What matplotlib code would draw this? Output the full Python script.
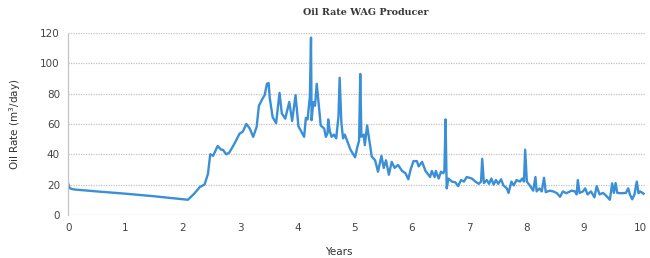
import matplotlib.pyplot as plt

# Years and oil rate (m3/day)
years = [0.00, 0.03, 0.10, 0.50, 1.00, 1.50, 1.95, 2.09, 2.20, 2.30, 2.38, 2.44,
         2.48, 2.53, 2.61, 2.67, 2.70, 2.76, 2.81, 2.88, 2.93, 2.99, 3.05, 3.11,
         3.17, 3.23, 3.29, 3.33, 3.39, 3.43, 3.47, 3.50, 3.52, 3.57, 3.63, 3.69,
         3.73, 3.79, 3.86, 3.91, 3.97, 4.02, 4.12, 4.15, 4.18, 4.22, 4.24, 4.25,
         4.28, 4.31, 4.34, 4.37, 4.41, 4.47, 4.50, 4.53, 4.54, 4.57, 4.60, 4.64,
         4.68, 4.72, 4.74, 4.77, 4.80, 4.83, 4.88, 4.93, 5.01, 5.05, 5.08, 5.10,
         5.12, 5.16, 5.18, 5.22, 5.25, 5.30, 5.36, 5.41, 5.47, 5.51, 5.55, 5.60,
         5.65, 5.70, 5.76, 5.83, 5.89, 5.94, 5.98, 6.03, 6.09, 6.12, 6.18, 6.24,
         6.32, 6.35, 6.40, 6.42, 6.47, 6.51, 6.55, 6.57, 6.59, 6.61, 6.64, 6.70,
         6.76, 6.81, 6.86, 6.91, 6.96, 7.05, 7.11, 7.17, 7.21, 7.23, 7.26, 7.31,
         7.35, 7.39, 7.43, 7.47, 7.51, 7.56, 7.60, 7.66, 7.69, 7.74, 7.78, 7.83,
         7.89, 7.93, 7.96, 7.98, 8.01, 8.06, 8.12, 8.16, 8.18, 8.23, 8.27, 8.31,
         8.34, 8.41, 8.47, 8.53, 8.59, 8.64, 8.70, 8.79, 8.85, 8.88, 8.90, 8.93,
         8.99, 9.03, 9.07, 9.13, 9.19, 9.23, 9.28, 9.34, 9.40, 9.46, 9.50, 9.53,
         9.56, 9.59, 9.65, 9.74, 9.78, 9.81, 9.85, 9.89, 9.93, 9.96, 9.99, 10.05]
oil_rate = [20.5, 17.5, 16.8, 15.5, 14.0, 12.3, 10.6, 10.0, 14.0, 18.5, 20.0, 27.0,
            40.0, 39.0, 45.5, 43.0, 43.0, 40.0, 41.0, 45.5, 49.0, 53.5, 55.0, 60.0,
            57.0, 51.5, 58.0, 72.0, 76.5, 79.0, 86.5, 87.0, 77.0, 64.5, 60.5, 80.5,
            67.0, 63.5, 74.5, 62.0, 79.0, 58.5, 51.5, 64.0, 63.0, 78.0, 117.0, 62.5,
            74.5, 72.0, 86.5, 75.0, 59.0, 57.0, 51.5, 54.0, 63.0, 55.0, 51.5, 53.0,
            50.5, 65.0, 90.5, 61.0, 50.5, 53.0, 48.0, 43.0, 38.0, 45.0, 49.0, 93.0,
            51.5, 53.0, 46.0, 59.0, 51.5, 38.5, 36.0, 28.5, 39.0, 31.0, 36.0, 26.5,
            35.0, 31.0, 33.0, 29.0, 27.5, 23.5, 30.0, 35.5, 35.5, 32.0, 35.0, 29.0,
            25.0, 29.0, 25.0, 29.0, 24.0, 28.5, 27.5, 29.0, 63.0, 17.5, 24.0, 22.0,
            21.5, 19.0, 23.0, 22.0, 25.0, 24.0, 22.0, 20.5, 22.0, 37.0, 21.0, 23.0,
            20.5, 24.0, 20.0, 23.0, 20.5, 23.5, 19.5, 17.5, 14.5, 22.0, 19.5, 23.0,
            22.0, 24.0, 22.0, 43.0, 22.0, 19.5, 16.0, 25.0, 15.5, 17.5, 15.5, 24.5,
            15.0, 16.0, 15.5, 14.5, 12.0, 15.5, 14.3, 16.0, 15.5, 13.5, 23.0, 14.5,
            15.5, 17.5, 13.5, 15.5, 11.6, 19.0, 13.5, 14.5, 12.5, 10.0, 20.8, 14.5,
            21.0, 14.5, 14.3, 14.5, 17.5, 13.5, 10.3, 13.5, 22.0, 14.3, 15.5, 14.0]

y_ticks = [0, 20, 40, 60, 80, 100, 120]
x_ticks = list(range(0, 11))

fig = plt.figure(figsize=(6.5, 2.58), dpi=100)
ax = fig.add_axes([0.105, 0.167, 0.887, 0.705])

ax.plot(years, oil_rate, color='#3a8fd6', linewidth=1.7)

ax.set_xlim(0, 10.07)
ax.set_ylim(0, 120)
ax.set_xticks(x_ticks)
ax.set_yticks(y_ticks)
ax.grid(axis='y', linestyle=(0, (1, 1)), color='#c4c4c4', linewidth=0.9)
ax.set_axisbelow(True)

for side in ['top', 'right', 'bottom']:
    ax.spines[side].set_visible(False)
ax.spines['left'].set_color('#c4c4c4')
ax.spines['left'].set_linestyle((0, (1, 1)))
ax.spines['left'].set_linewidth(0.9)
ax.tick_params(length=0, labelsize=7.5, labelcolor='#444444', pad=6)

fig.text(0.562, 0.95, 'Oil Rate WAG Producer', ha='center', va='center',
         fontsize=6.9, fontweight='bold', family='DejaVu Serif', color='#383838')
fig.text(0.521, 0.025, 'Years', ha='center', va='center', fontsize=7.5,
         color='#333333')
fig.text(0.023, 0.52, 'Oil Rate (m$^3$/day)', ha='center', va='center',
         rotation=90, fontsize=7.5, color='#333333')

fig.savefig('out.png', dpi=100)
